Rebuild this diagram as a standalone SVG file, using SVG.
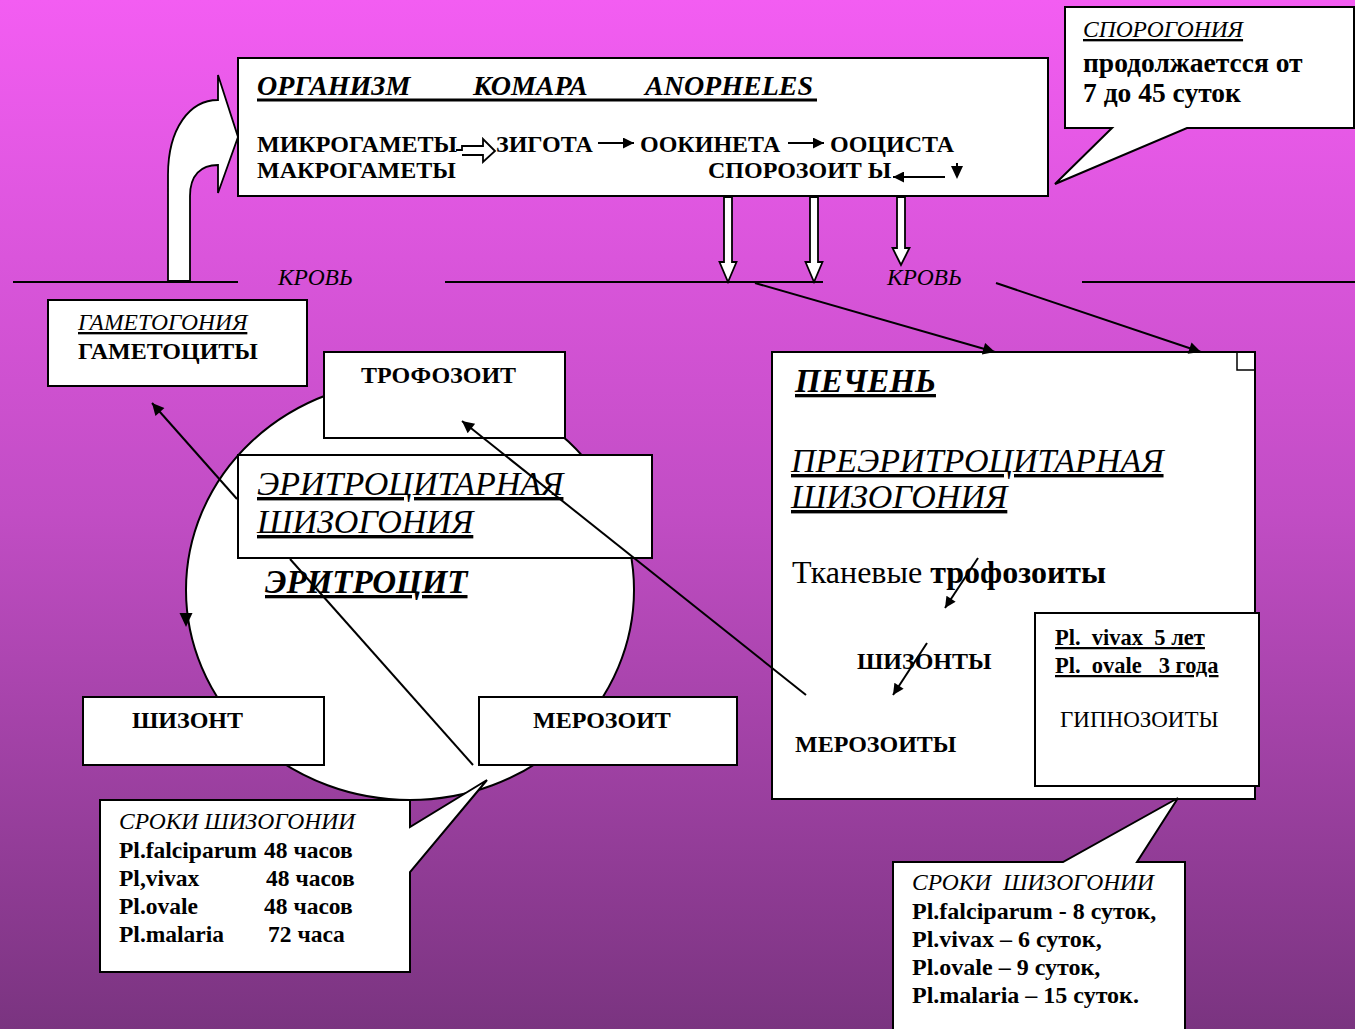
<svg xmlns="http://www.w3.org/2000/svg" width="1355" height="1029" viewBox="0 0 1355 1029">
<defs>
<linearGradient id="bg" x1="0" y1="0" x2="0" y2="1">
<stop offset="0" stop-color="#F35DF2"/>
<stop offset="0.5" stop-color="#C14DC4"/>
<stop offset="1" stop-color="#7A3480"/>
</linearGradient>
<marker id="ah" viewBox="0 0 10 10" refX="10" refY="5" markerWidth="15" markerHeight="12" markerUnits="userSpaceOnUse" orient="auto"><path d="M0,0 L10,5 L0,10 z" fill="#000"/></marker>
<marker id="as" viewBox="0 0 10 10" refX="10" refY="5" markerWidth="13" markerHeight="11" markerUnits="userSpaceOnUse" orient="auto"><path d="M0,0 L10,5 L0,10 z" fill="#000"/></marker>
<style>
.box{fill:#fff;stroke:#000;stroke-width:2}
.t{font-family:"Liberation Serif","Times New Roman",serif;fill:#000}
.b{font-weight:bold}
.i{font-style:italic}
.u{text-decoration:underline}
.s23{font-size:23.5px}
.s24{font-size:24px}
.ln{stroke:#000;stroke-width:2;fill:none}
.blk{fill:#fff;stroke:#000;stroke-width:1.8}
</style>
</defs>
<rect width="1355" height="1029" fill="url(#bg)"/>

<g id="blood">
<line x1="13" y1="282" x2="238" y2="282" stroke="#000" stroke-width="2"/>
<line x1="445" y1="282" x2="823" y2="282" stroke="#000" stroke-width="2"/>
<line x1="1082" y1="282" x2="1355" y2="282" stroke="#000" stroke-width="2"/>
<text class="t i s23" x="278" y="285">КРОВЬ</text>
<text class="t i s23" x="887" y="285">КРОВЬ</text>
</g>

<g id="mosquito">
<rect class="box" x="238" y="58" width="810" height="138"/>
<text class="t b i" font-size="28" y="95"><tspan x="257">ОРГАНИЗМ</tspan><tspan x="473">КОМАРА</tspan><tspan x="645">ANOPHELES</tspan></text>
<line x1="257" y1="100" x2="817" y2="100" stroke="#000" stroke-width="3"/>
<text class="t b s24" y="152"><tspan x="257">МИКРОГАМЕТЫ</tspan><tspan x="496">ЗИГОТА</tspan><tspan x="640">ООКИНЕТА</tspan><tspan x="830">ООЦИСТА</tspan></text>
<text class="t b s24" y="178"><tspan x="257">МАКРОГАМЕТЫ</tspan><tspan x="708">СПОРОЗОИТ Ы</tspan></text>
</g>

<g id="sporogony">
<path class="box" d="M1065,7 L1354,7 L1354,128 L1187,128 L1055,184 L1112,128 L1065,128 Z"/>
<text class="t i u s23" x="1083" y="37">СПОРОГОНИЯ</text>
<text class="t b" font-size="27.5" x="1083" y="72">продолжаетсся от</text>
<text class="t b" font-size="27.5" x="1083" y="102">7 до 45 суток</text>
</g>

<g id="gametocytes">
<rect class="box" x="48" y="300" width="259" height="86"/>
<text class="t i u s23" x="78" y="330">ГАМЕТОГОНИЯ</text>
<text class="t b s24" x="78" y="359">ГАМЕТОЦИТЫ</text>
</g>

<g id="erythrocyte">
<ellipse cx="410" cy="590" rx="224" ry="210" fill="#fff" stroke="#000" stroke-width="2"/>
<text class="t b i u" font-size="33" x="265" y="593">ЭРИТРОЦИТ</text>
</g>

<g id="trophozoite">
<rect class="box" x="324" y="352" width="241" height="86"/>
<text class="t b s24" x="361" y="383">ТРОФОЗОИТ</text>
</g>

<g id="erythro-schizogony">
<rect class="box" x="238" y="455" width="414" height="103"/>
<text class="t i u" font-size="34" x="257" y="495">ЭРИТРОЦИТАРНАЯ</text>
<text class="t i u" font-size="34" x="257" y="533">ШИЗОГОНИЯ</text>
</g>

<g id="schizont">
<rect class="box" x="83" y="697" width="241" height="68"/>
<text class="t b s24" x="132" y="728">ШИЗОНТ</text>
</g>

<g id="merozoite">
<rect class="box" x="479" y="697" width="258" height="68"/>
<text class="t b s24" x="533" y="728">МЕРОЗОИТ</text>
</g>

<g id="erythro-terms">
<path class="box" d="M100,800 L410,800 L410,827 L487,780 L410,872 L410,972 L100,972 Z"/>
<text class="t i s23" x="119" y="829">СРОКИ ШИЗОГОНИИ</text>
<text class="t b s23" x="119" y="858">Pl.falciparum</text><text class="t b s23" x="264" y="858">48 часов</text>
<text class="t b s23" x="119" y="886">Pl,vivax</text><text class="t b s23" x="266" y="886">48 часов</text>
<text class="t b s23" x="119" y="914">Pl.ovale</text><text class="t b s23" x="264" y="914">48 часов</text>
<text class="t b s23" x="119" y="942">Pl.malaria</text><text class="t b s23" x="268" y="942">72 часа</text>
</g>

<g id="liver">
<rect class="box" x="772" y="352" width="483" height="447"/>
<rect x="1237" y="352" width="18" height="18" fill="none" stroke="#000" stroke-width="1.5"/>
<text class="t b i u" font-size="33" x="795" y="392">ПЕЧЕНЬ</text>
<text class="t i u" font-size="34" x="791" y="472">ПРЕЭРИТРОЦИТАРНАЯ</text>
<text class="t i u" font-size="34" x="791" y="508">ШИЗОГОНИЯ</text>
<text class="t" font-size="32" x="792" y="583">Тканевые <tspan class="b">трофозоиты</tspan></text>
<text class="t b s24" x="857" y="669">ШИЗОНТЫ</text>
<text class="t b s24" x="795" y="752">МЕРОЗОИТЫ</text>
</g>

<g id="hypnozoites">
<rect class="box" x="1035" y="613" width="224" height="173"/>
<text class="t b u" font-size="22.5" x="1055" y="645" xml:space="preserve">Pl.  vivax  5 лет</text>
<text class="t b u" font-size="22.5" x="1055" y="673" xml:space="preserve">Pl.  ovale   3 года</text>
<text class="t" font-size="23" x="1060" y="727">ГИПНОЗОИТЫ</text>
</g>

<g id="liver-terms">
<path class="box" d="M893,862 L1063,862 L1178,798 L1137,862 L1185,862 L1185,1035 L893,1035 Z"/>
<text class="t i s23" x="912" y="890" xml:space="preserve">СРОКИ  ШИЗОГОНИИ</text>
<text class="t b s24" x="912" y="919">Pl.falciparum - 8 суток,</text>
<text class="t b s24" x="912" y="947">Pl.vivax – 6 суток,</text>
<text class="t b s24" x="912" y="975">Pl.ovale – 9 суток,</text>
<text class="t b s24" x="912" y="1003">Pl.malaria – 15 суток.</text>
</g>

<g id="connectors">
<path class="blk" d="M168,281 L168,175 C168,128 190,100 218,100 L218,75 L238,137 L218,193 L218,165 C201,165 190,175 190,196 L190,281 Z"/>
<path class="blk" d="M456,150 L462,150 L462,146 L483,146 L483,139 L495,151 L483,162 L483,155 L462,155"/>
<line class="ln" x1="598" y1="143" x2="634" y2="143" marker-end="url(#as)"/>
<line class="ln" x1="788" y1="143" x2="824" y2="143" marker-end="url(#as)"/>
<line class="ln" x1="945" y1="177" x2="893" y2="177" marker-end="url(#as)"/>
<line class="ln" x1="957" y1="163" x2="957" y2="168"/>
<polygon points="951,166 963,166 957,179" fill="#000"/>
<path class="blk" d="M724,197 L724,262 L719.5,262 L728,282 L736.5,262 L732,262 L732,197 Z"/>
<path class="blk" d="M810,197 L810,262 L805.5,262 L814,282 L822.5,262 L818,262 L818,197 Z"/>
<path class="blk" d="M897,197 L897,248 L892.5,248 L901,265 L909.5,248 L905,248 L905,197 Z"/>
<line class="ln" x1="755" y1="283" x2="995" y2="352" marker-end="url(#ah)"/>
<line class="ln" x1="996" y1="283" x2="1201" y2="352" marker-end="url(#ah)"/>
<line class="ln" x1="806" y1="695" x2="462" y2="421" marker-end="url(#ah)"/>
<line class="ln" x1="473" y1="765" x2="290" y2="559"/>
<line class="ln" x1="237" y1="499" x2="152" y2="403" marker-end="url(#ah)"/>
<polygon points="179.5,613 192.5,613 186,627" fill="#000"/>
<line class="ln" x1="978" y1="558" x2="945" y2="608" marker-end="url(#as)"/>
<line class="ln" x1="927" y1="643" x2="893" y2="695" marker-end="url(#as)"/>
</g>
</svg>
